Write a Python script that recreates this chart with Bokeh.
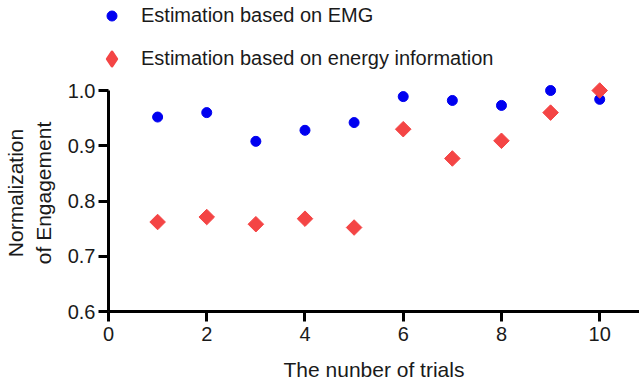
import numpy as np
from bokeh.plotting import figure
from bokeh.layouts import column
from bokeh.models import Range1d, Legend, LegendItem, FixedTicker, PrintfTickFormatter
from bokeh.embed import file_html
from bokeh.resources import INLINE

trials = [1, 2, 3, 4, 5, 6, 7, 8, 9, 10]
emg = [0.952, 0.960, 0.908, 0.928, 0.942, 0.989, 0.982, 0.973, 1.000, 0.984]
energy = [0.762, 0.771, 0.758, 0.768, 0.752, 0.930, 0.877, 0.909, 0.960, 1.000]
x_ticks = [0, 2, 4, 6, 8, 10]
y_ticks = [0.6, 0.7, 0.8, 0.9, 1.0]
label_emg = "Estimation based on EMG"
label_energy = "Estimation based on energy information"

FONT = "Liberation Sans"
TXT = "#1a1a1a"
BLUE = "#0000F0"
RED = "#F44545"

# ---- main plot ----
p = figure(width=639, height=310, output_backend="svg", toolbar_location=None,
           x_range=Range1d(0, 10.81), y_range=Range1d(0.6, 1.029),
           min_border_left=108, min_border_right=0, min_border_top=0, min_border_bottom=73)
p.outline_line_color = None
p.xgrid.visible = False
p.ygrid.visible = False
p.frame_align = False

p.scatter(trials, emg, marker="circle", size=10, fill_color=BLUE, line_color=BLUE)
p.scatter(trials, energy, marker="square", size=11, angle=np.pi / 4,
          fill_color=RED, line_color=RED)

for ax in (p.xaxis[0], p.yaxis[0]):
    ax.axis_line_width = 3
    ax.axis_line_color = "black"
    ax.major_tick_line_width = 3
    ax.major_tick_line_color = "black"
    ax.major_tick_out = 10
    ax.major_tick_in = 0
    ax.minor_tick_line_color = None
    ax.major_label_text_font = FONT
    ax.major_label_text_font_size = "20px"
    ax.major_label_text_color = TXT
    ax.axis_label_text_font = FONT
    ax.axis_label_text_font_size = "21px"
    ax.axis_label_text_font_style = "normal"
    ax.axis_label_text_color = TXT

p.xaxis.ticker = FixedTicker(ticks=x_ticks)
p.yaxis.ticker = FixedTicker(ticks=y_ticks)
p.yaxis.formatter = PrintfTickFormatter(format="%.1f")
p.yaxis.bounds = (0.6, 1.0)
p.xaxis.major_label_standoff = 5
p.yaxis.major_label_standoff = 3
p.xaxis.axis_label = "The nunber of trials"
p.yaxis.axis_label = "Normalization\nof Engagement"
p.xaxis.axis_label_standoff = 14
p.yaxis.axis_label_standoff = 10

# ---- legend strip above the plot ----
lg = figure(width=639, height=74, output_backend="svg", toolbar_location=None,
            x_range=Range1d(100, 101), y_range=Range1d(100, 101),
            x_axis_type=None, y_axis_type=None,
            min_border_left=0, min_border_right=0, min_border_top=0, min_border_bottom=0)
lg.outline_line_color = None
lg.xgrid.visible = False
lg.ygrid.visible = False
lg.frame_align = False
k1 = lg.scatter(trials, emg, marker="circle", size=10, fill_color=BLUE, line_color=BLUE)
# legend keys are drawn unrotated, so the red key uses a (widened) diamond marker
k2 = lg.scatter(trials, energy, marker="diamond", size=14, fill_color=RED, line_color=RED,
                line_width=3, line_join="round")

common = dict(orientation="vertical", padding=0, margin=0,
              label_text_font=FONT, label_text_font_size="20px", label_text_color=TXT,
              background_fill_alpha=0, border_line_color=None)
leg1 = Legend(items=[LegendItem(label=label_emg, renderers=[k1])],
              location=(99, 46), glyph_width=25, glyph_height=25, label_height=25,
              label_standoff=17, **common)
leg2 = Legend(items=[LegendItem(label=label_energy, renderers=[k2])],
              location=(94, -2), glyph_width=35, glyph_height=35, label_height=35,
              label_standoff=12, **common)
lg.add_layout(leg1, "center")
lg.add_layout(leg2, "center")

layout = column(lg, p, spacing=0)
open("out.html", "w").write(file_html(layout, INLINE))
